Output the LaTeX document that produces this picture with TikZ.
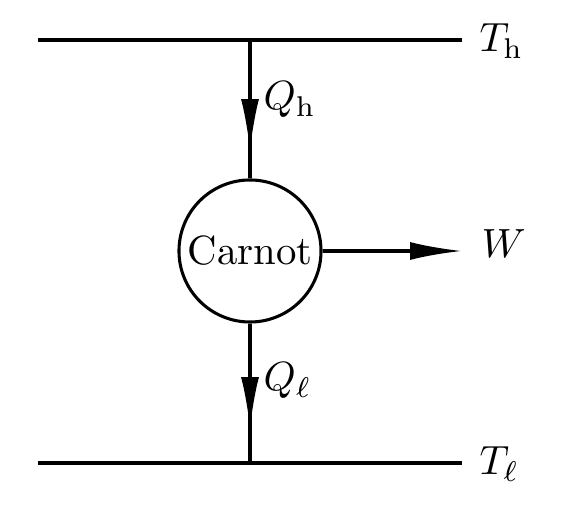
\documentclass[tikz,border=0pt]{standalone}
\usepackage{amsmath}
\usepackage{tikz}
\usetikzlibrary{arrows.meta}
\usetikzlibrary{decorations.markings}

\begin{document}
\begin{tikzpicture}[x=0.245pt, y=-0.245pt, line width=0.75pt,
    punta/.style={-{Latex[length=12.7pt, width=4.4pt]}},
    marca/.style={postaction={decorate}, decoration={markings,
        mark=at position #1 with {\arrow{Latex[length=12.7pt, width=4.4pt]}}}}]
              \useasboundingbox (0,0) rectangle (578,530);
              % Nodos
              \node[draw, circle, minimum size=34.8pt, inner sep=0pt] (carnot) at (250,251) {Carnot};
              \coordinate (h1) at (38,40);
              \coordinate (h2) at (462,40);
              \coordinate (hc) at (250,40);
              \coordinate (l1) at (38,463);
              \coordinate (l2) at (462,463);
              \coordinate (lc) at (250,463);
              \coordinate (w) at (462,251);
              \node[anchor=base west, inner sep=0pt] (th) at (478,52) {$T_{\mathrm{h}}$};
              \node[anchor=base west, inner sep=0pt] (tl) at (478,475) {$T_{\ell}$};
              \node[anchor=base west, inner sep=0pt] (ww) at (480,258) {$W$};
              \node[anchor=base west, inner sep=0pt] (qh) at (262,110) {$Q_{\mathrm{h}}$};
              \node[anchor=base west, inner sep=0pt] (ql) at (262,391) {$Q_{\ell}$};

              % Aristas
              \draw (h1) -- (h2);
              \draw (l1) -- (l2);
              \draw[marca=27.2pt] (hc) -- (carnot.north);
              \draw[marca=25.8pt] (carnot.south) -- (lc);
              \draw[punta] (carnot.east) -- (w);
            \end{tikzpicture}
\end{document}
